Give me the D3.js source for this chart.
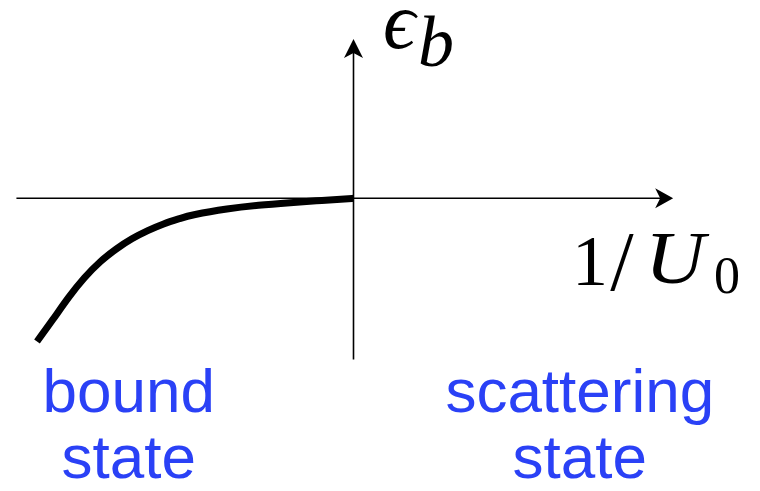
<!DOCTYPE html>
<html>
<head>
<meta charset="utf-8">
<script src="https://cdn.jsdelivr.net/npm/d3@7"></script>
<style>
  html, body { margin: 0; padding: 0; background: #fff; }
  svg { display: block; }
</style>
</head>
<body>
<svg id="chart" width="760" height="491"></svg>
<script>
// Binding energy vs. inverse coupling strength (arbitrary units)
const invU = [-1.0, -0.95, -0.9, -0.85, -0.8, -0.75, -0.7, -0.65, -0.6, -0.55, -0.5, -0.4, -0.3, -0.2, -0.1, 0.0];
const epsB = [-1.0, -0.847, -0.692, -0.555, -0.443, -0.355, -0.283, -0.226, -0.179, -0.142, -0.113, -0.075, -0.049, -0.031, -0.015, 0.0];

// Extent of the drawn axes, in data units
const xAxisExtent = [-1.065, 1.01];
const yAxisExtent = [-1.126, 1.112];

const regionLabels = [
  { lines: ["bound", "state"], x: -0.71 },
  { lines: ["scattering", "state"], x: 0.715 }
];

const svg = d3.select("#chart");

const x = d3.scaleLinear().domain([-1, 0]).range([37, 353.5]);
const y = d3.scaleLinear().domain([-1, 0]).range([341.5, 198.3]);

// Horizontal axis with arrowhead
svg.append("line")
  .attr("x1", x(xAxisExtent[0])).attr("x2", x(xAxisExtent[1]) - 10)
  .attr("y1", y(0)).attr("y2", y(0))
  .attr("stroke", "#000").attr("stroke-width", 1.6);

const hx = x(xAxisExtent[1]), hy = y(0);
svg.append("path")
  .attr("d", `M${hx},${hy} L${hx - 18},${hy - 10} L${hx - 13},${hy} L${hx - 18},${hy + 10} Z`)
  .attr("fill", "#000");

// Vertical axis with arrowhead
svg.append("line")
  .attr("x1", x(0)).attr("x2", x(0))
  .attr("y1", y(yAxisExtent[0])).attr("y2", y(yAxisExtent[1]) + 10)
  .attr("stroke", "#000").attr("stroke-width", 1.6);

const vx = x(0), vy = y(yAxisExtent[1]);
svg.append("path")
  .attr("d", `M${vx},${vy} L${vx - 9.5},${vy + 19} L${vx},${vy + 14} L${vx + 9.5},${vy + 19} Z`)
  .attr("fill", "#000");

// Bound-state energy curve
const line = d3.line()
  .x((d, i) => x(invU[i]))
  .y(d => y(d))
  .curve(d3.curveNatural);

svg.append("path")
  .datum(epsB)
  .attr("d", line)
  .attr("fill", "none")
  .attr("stroke", "#000")
  .attr("stroke-width", 7)
  .attr("stroke-linecap", "butt");

// Axis labels
const mathFont = "'Liberation Serif', 'DejaVu Serif', serif";

const epsLabel = svg.append("g")
  .attr("font-family", mathFont)
  .attr("font-style", "italic")
  .attr("fill", "#000");
epsLabel.append("text").attr("x", 383).attr("y", 48).attr("font-size", 80).text("\u03F5");
epsLabel.append("text").attr("x", 418).attr("y", 66).attr("font-size", 72).text("b");

const uLabel = svg.append("g").attr("font-family", mathFont).attr("fill", "#000");
uLabel.append("text").attr("x", 590).attr("y", 285).attr("font-size", 72)
  .attr("text-anchor", "middle").text("1");
uLabel.append("text").attr("x", 622).attr("y", 290).attr("font-size", 84)
  .attr("text-anchor", "middle").text("/");
uLabel.append("text").attr("transform", "translate(645,283) scale(1.12,1)")
  .attr("font-size", 74).attr("font-style", "italic").text("U");
uLabel.append("text").attr("x", 714).attr("y", 293).attr("font-size", 52)
  .text("0");

// Region labels
regionLabels.forEach(r => {
  const t = svg.append("text")
    .attr("font-family", "'Liberation Sans', Arial, Helvetica, sans-serif")
    .attr("font-size", 62)
    .attr("fill", "#2a41f6")
    .attr("text-anchor", "middle");
  r.lines.forEach((ln, i) => {
    t.append("tspan")
      .attr("x", x(r.x))
      .attr("y", 412 + i * 66)
      .text(ln);
  });
});
</script>
</body>
</html>
